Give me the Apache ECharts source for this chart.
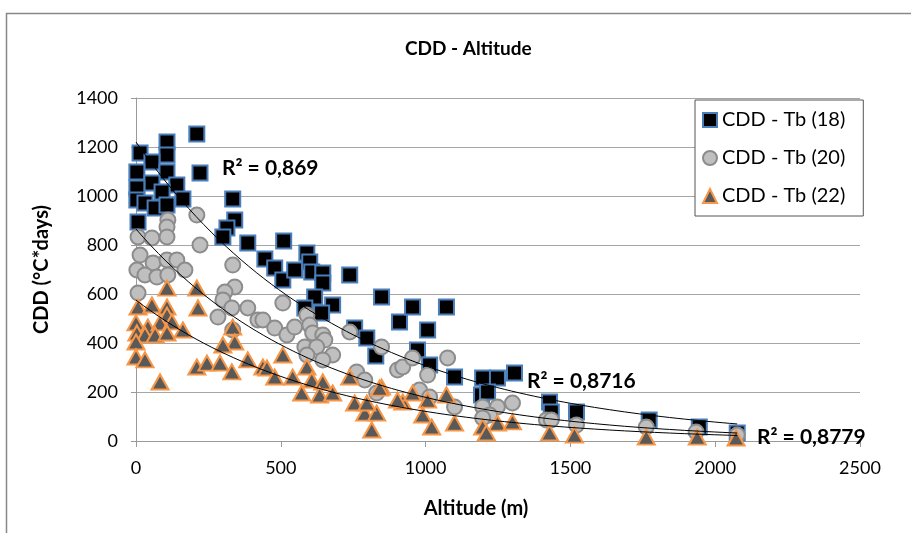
<!DOCTYPE html>
<html>
<head>
<meta charset="utf-8">
<script src="https://cdn.jsdelivr.net/npm/echarts@6/dist/echarts.min.js"></script>
<style>
  html, body { margin: 0; padding: 0; background: #fff; }
  #main { width: 911px; height: 533px; }
</style>
</head>
<body>
<div id="main"></div>
<script>
// altitude (m) / CDD values
var alt18 = [210, 107, 14, 107, 55, 107, 221, 3, 55, 141, 3, 90, 162, 334, 3, 31, 66, 107, 7, 341,
  314, 300, 386, 510, 445, 479, 507, 548, 590, 600, 607, 645, 645, 738, 617, 679, 641, 583, 848, 910,
  755, 797, 828, 955, 1072, 1007, 972, 1014, 1100, 1197, 1248, 1307, 1193, 1214, 1428, 1434, 1521, 1772, 1945, 2076];
var cdd18 = [1253, 1220, 1176, 1167, 1139, 1098, 1094, 1098, 1053, 1045, 1033, 1016, 988, 988, 984, 971, 951, 963, 894, 902,
  869, 833, 808, 816, 743, 706, 657, 698, 767, 731, 690, 686, 645, 678, 588, 555, 522, 543, 588, 486,
  461, 420, 347, 547, 547, 453, 371, 310, 261, 257, 257, 278, 188, 200, 159, 118, 118, 86, 57, 33];

var alt20 = [210, 110, 107, 7, 55, 107, 221, 14, 59, 107, 141, 169, 3, 31, 72, 110, 7, 334, 341, 307,
  300, 331, 386, 421, 283, 334, 507, 438, 479, 521, 548, 590, 600, 610, 645, 652, 583, 624, 679, 645,
  590, 738, 848, 762, 790, 831, 903, 921, 955, 1076, 1007, 979, 1014, 1100, 1197, 1248, 1221, 1197, 1300, 1417,
  1434, 1521, 1762, 1934, 2076];
var cdd20 = [922, 902, 873, 833, 829, 833, 800, 759, 727, 739, 739, 698, 698, 678, 669, 678, 604, 718, 629, 608,
  576, 543, 543, 494, 506, 453, 563, 494, 461, 433, 465, 514, 473, 441, 433, 412, 384, 384, 351, 331,
  351, 445, 384, 282, 249, 196, 290, 302, 339, 339, 269, 208, 180, 139, 139, 139, 106, 94, 155, 86,
  86, 65, 57, 37, 24];

var alt22 = [107, 210, 7, 55, 107, 107, 214, 0, 41, 83, 124, 162, 3, 31, 66, 107, 0, 0, 31, 334,
  341, 300, 210, 245, 290, 331, 386, 83, 438, 507, 452, 479, 541, 590, 607, 645, 572, 634, 679, 738,
  755, 790, 848, 921, 831, 841, 797, 814, 903, 955, 1007, 1072, 990, 1021, 1100, 1197, 1248, 1300, 1210, 1428,
  1514, 1762, 1938, 2072];
var cdd22 = [624, 624, 547, 555, 547, 514, 543, 482, 465, 482, 486, 453, 441, 433, 433, 441, 404, 343, 331, 465,
  404, 392, 302, 318, 318, 282, 331, 241, 302, 351, 298, 261, 261, 302, 249, 241, 196, 188, 196, 261,
  155, 114, 220, 159, 114, 216, 155, 45, 167, 196, 167, 188, 106, 57, 73, 57, 73, 78, 33, 33,
  24, 16, 16, 12];

var seriesNames = ['CDD - Tb (18)', 'CDD - Tb (20)', 'CDD - Tb (22)'];
var r2Labels = ['R² = 0,869', 'R² = 0,8716', 'R² = 0,8779'];

// exponential trendline coefficients (y = a * e^(b*x))
var trendA = [1220, 865, 575];
var trendB = [-0.00138, -0.00158, -0.00156];
var trendRange = [0, 2076];

function pairs(xs, ys) {
  var res = [];
  for (var i = 0; i < xs.length; i++) res.push([xs[i], ys[i]]);
  return res;
}

function trendPoints(a, b) {
  var pts = [];
  for (var k = 0; k <= 80; k++) {
    var x = trendRange[0] + (trendRange[1] - trendRange[0]) * k / 80;
    pts.push([x, a * Math.exp(b * x)]);
  }
  return pts;
}

function trendSeries(i) {
  return {
    type: 'line', data: trendPoints(trendA[i], trendB[i]), showSymbol: false, silent: true, z: 5,
    lineStyle: { color: '#000', width: 1 }
  };
}

// plain numbers, no thousands separator
function plain(v) {
  return String(v);
}

var font = 'Lato, "Open Sans", sans-serif';
var myChart = echarts.init(document.getElementById('main'));

var option = {
  backgroundColor: '#fff',
  animation: false,
  title: {
    text: 'CDD - Altitude', left: 400, top: 34,
    textStyle: { fontFamily: font, fontSize: 19, fontWeight: 'bold', color: '#000' }
  },
  grid: { left: 136, right: 51, top: 98, bottom: 92 },
  legend: {
    data: [
      { name: seriesNames[0], icon: 'rect' },
      { name: seriesNames[1], icon: 'circle' },
      { name: seriesNames[2], icon: 'triangle' }
    ],
    orient: 'vertical', left: 695, top: 100,
    itemWidth: 14, itemHeight: 14, itemGap: 18,
    padding: [10, 18, 10, 7],
    backgroundColor: '#fff', borderColor: '#555', borderWidth: 1,
    textStyle: { fontFamily: font, fontSize: 20, color: '#000' }
  },
  xAxis: {
    type: 'value', min: 0, max: 2500, interval: 500,
    name: 'Altitude (m)', nameLocation: 'middle', nameGap: 58,
    nameTextStyle: { fontFamily: font, fontSize: 20, fontWeight: 'bold', color: '#000', padding: [0, 44, 0, 0] },
    axisLine: { lineStyle: { color: '#9a9a9a' } },
    axisTick: { show: true, length: 6, lineStyle: { color: '#9a9a9a' } },
    axisLabel: { fontFamily: font, fontSize: 18, color: '#000', margin: 18, formatter: plain },
    splitLine: { show: false }
  },
  yAxis: {
    type: 'value', min: 0, max: 1400, interval: 200,
    name: 'CDD (°C*days)', nameLocation: 'middle', nameGap: 84, nameRotate: 90,
    nameTextStyle: { fontFamily: font, fontSize: 20, fontWeight: 'bold', color: '#000' },
    axisLine: { show: true, lineStyle: { color: '#9a9a9a' } },
    axisTick: { show: true, length: 5, lineStyle: { color: '#9a9a9a' } },
    axisLabel: { fontFamily: font, fontSize: 18, color: '#000', margin: 18, formatter: plain },
    splitLine: { lineStyle: { color: '#a6a6a6' } }
  },
  series: [
    {
      name: seriesNames[0], type: 'scatter', symbol: 'rect', symbolSize: 15, z: 2,
      data: pairs(alt18, cdd18),
      itemStyle: { color: '#000', borderColor: '#4a7ebb', borderWidth: 2, opacity: 1 }
    },
    {
      name: seriesNames[1], type: 'scatter', symbol: 'circle', symbolSize: 15, z: 3,
      data: pairs(alt20, cdd20),
      itemStyle: { color: '#bfbfbf', borderColor: '#8c8c8c', borderWidth: 2, opacity: 1 }
    },
    {
      name: seriesNames[2], type: 'scatter', symbol: 'triangle', symbolSize: [17, 15], z: 4,
      data: pairs(alt22, cdd22),
      itemStyle: { color: '#595959', borderColor: '#f79646', borderWidth: 2, opacity: 1 }
    },
    trendSeries(0),
    trendSeries(1),
    trendSeries(2)
  ],
  graphic: [
    {
      type: 'rect', silent: true, z: -1,
      shape: { x: 6.5, y: 13.5, width: 1000, height: 1000 },
      style: { fill: 'none', stroke: '#888', lineWidth: 1.5 }
    },
    {
      type: 'text', left: 222, top: 158, z: 10,
      style: { text: r2Labels[0], fontFamily: font, fontSize: 21, fontWeight: 'bold', fill: '#000' }
    },
    {
      type: 'text', left: 527, top: 371, z: 10,
      style: { text: r2Labels[1], fontFamily: font, fontSize: 21, fontWeight: 'bold', fill: '#000' }
    },
    {
      type: 'text', left: 757, top: 427, z: 10,
      style: { text: r2Labels[2], fontFamily: font, fontSize: 21, fontWeight: 'bold', fill: '#000' }
    }
  ]
};

myChart.setOption(option);
</script>
</body>
</html>
